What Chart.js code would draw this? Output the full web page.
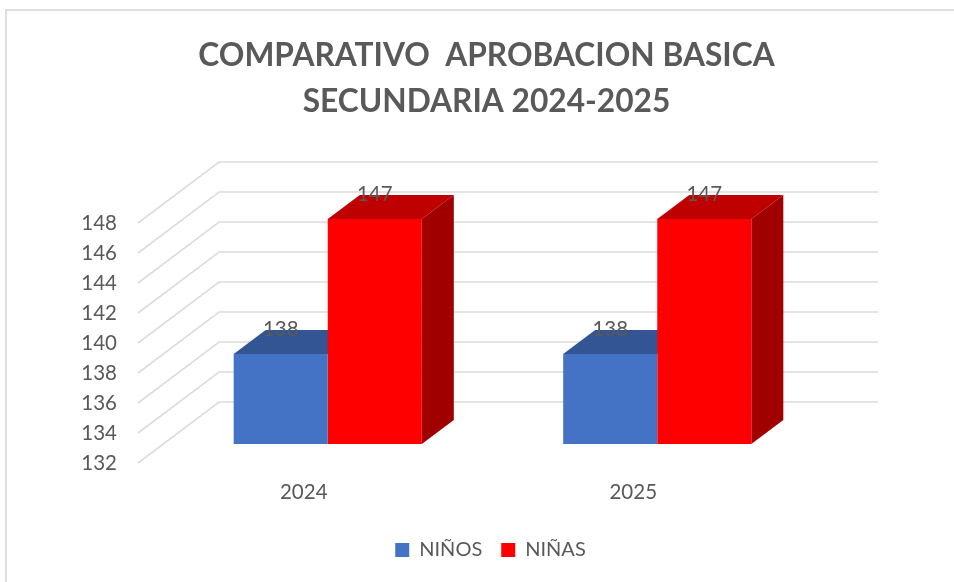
<!DOCTYPE html>
<html><head><meta charset="utf-8">
<style>html,body{margin:0;padding:0;background:#fff}#w{position:relative;width:954px;height:582px}</style>
<script src="https://cdn.jsdelivr.net/npm/chart.js@4"></script>
</head><body><div id="w"><canvas id="c" width="954" height="582"></canvas></div>
<script>
const categories = ['2024', '2025'];
const ninos = [138, 138];
const ninas = [147, 147];
const seriesNames = ['NIÑOS', 'NIÑAS'];
const titleLines = ['COMPARATIVO  APROBACION BASICA', 'SECUNDARIA 2024-2025'];

const FONT = 'Lato, Carlito, sans-serif';
const TXT = '#595959';
const shade = {'#4472c4': {top: '#335593'}, '#ff0000': {top: '#bf0000', side: '#a00000'}};

const threeD = {
  id: 'threeD',
  afterLayout(chart) {
    chart.legend.left += 4;
    chart.legend.right += 4;
  },
  beforeDraw(chart) {
    const c = chart.ctx;
    c.save();
    c.strokeStyle = '#dedede'; c.lineWidth = 2;
    c.beginPath(); c.moveTo(6, 582); c.lineTo(6, 10); c.lineTo(954, 10); c.stroke();
    c.restore();
  },
  beforeDatasetsDraw(chart) {
    const c = chart.ctx, y = chart.scales.y, a = chart.chartArea;
    c.save();
    c.strokeStyle = '#dcdcdc'; c.lineWidth = 1.6;
    y.ticks.forEach(t => {
      const p = y.getPixelForValue(t.value);
      c.beginPath();
      c.moveTo(a.left - 25, p + 19);
      c.lineTo(a.left + 56, p - 42);
      c.lineTo(a.right + 56, p - 42);
      c.stroke();
    });
    chart.data.datasets.forEach((ds, i) => {
      chart.getDatasetMeta(i).data.forEach(b => {
        const l = b.x - b.width / 2, r = b.x + b.width / 2, dx = 32, dy = 24;
        const s = shade[ds.backgroundColor];
        c.fillStyle = s.top;
        c.beginPath(); c.moveTo(l, b.y); c.lineTo(l + dx, b.y - dy); c.lineTo(r + dx, b.y - dy); c.lineTo(r, b.y); c.fill();
        if (s.side) {
          c.fillStyle = s.side;
          c.beginPath(); c.moveTo(r, b.y); c.lineTo(r + dx, b.y - dy); c.lineTo(r + dx, b.base - dy); c.lineTo(r, b.base); c.fill();
        }
      });
    });
    c.restore();
  },
  afterDatasetsDraw(chart) {
    const c = chart.ctx;
    c.save();
    c.fillStyle = TXT; c.font = '20.5px ' + FONT; c.textAlign = 'center'; c.textBaseline = 'middle';
    chart.data.datasets.forEach((ds, i) => {
      chart.getDatasetMeta(i).data.forEach((b, j) => c.fillText(String(ds.data[j]), b.x, b.y - 25));
    });
    c.restore();
  }
};

new Chart(document.getElementById('c'), {
  type: 'bar',
  plugins: [threeD],
  data: {
    labels: categories,
    datasets: [
      {label: seriesNames[0], data: ninos, base: 132, backgroundColor: '#4472c4', categoryPercentage: 0.571, barPercentage: 1},
      {label: seriesNames[1], data: ninas, base: 132, backgroundColor: '#ff0000', categoryPercentage: 0.571, barPercentage: 1}
    ]
  },
  options: {
    responsive: false,
    animation: false,
    layout: {padding: {left: 19, right: 0, bottom: 12}},
    plugins: {
      tooltip: {enabled: false},
      title: {
        display: true, text: titleLines, color: TXT,
        font: {family: FONT, size: 31.7, weight: 'bold', lineHeight: 46 / 31.7},
        padding: {top: 33, bottom: 79}
      },
      legend: {
        position: 'bottom',
        labels: {color: TXT, font: {family: FONT, size: 20}, boxWidth: 14, boxHeight: 14, padding: 19}
      }
    },
    scales: {
      x: {
        grid: {display: false}, border: {display: false},
        ticks: {color: TXT, font: {family: FONT, size: 20.5}, padding: 28, labelOffset: -24, maxRotation: 0},
        afterFit(s) { s.height = 77; }
      },
      y: {
        min: 132, max: 148,
        grid: {display: false, drawTicks: false}, border: {display: false},
        ticks: {color: TXT, font: {family: FONT, size: 20.5}, stepSize: 2, padding: 46, labelOffset: 19},
        afterFit(s) { s.width = 144; }
      },
      rightGap: {
        position: 'right', min: 0, max: 1,
        grid: {display: false}, border: {display: false},
        ticks: {display: false},
        afterFit(s) { s.width = 132; }
      }
    }
  }
});
</script></body></html>
